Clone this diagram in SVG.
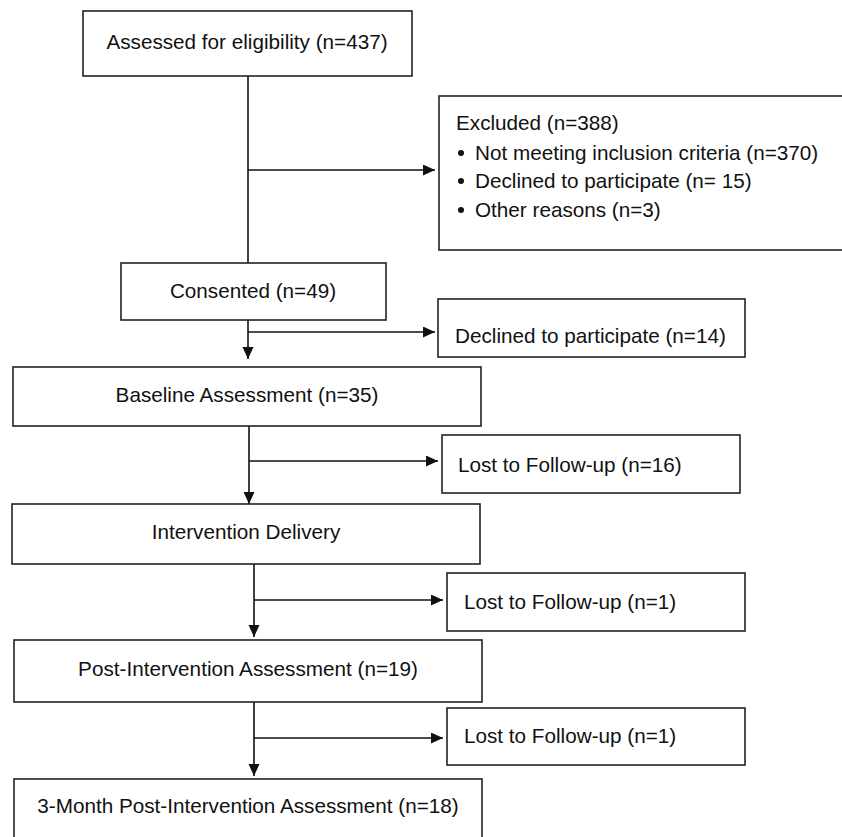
<svg xmlns="http://www.w3.org/2000/svg" width="842" height="837" viewBox="0 0 842 837">
<style>
.box{fill:#fff;stroke:#222;stroke-width:1.6}
.t{font-family:"Liberation Sans",Arial,sans-serif;font-size:20.7px;fill:#111}
.c{text-anchor:middle}
.ln{stroke:#111;stroke-width:1.6;fill:none}
</style>
<defs>
<marker id="ah" markerUnits="userSpaceOnUse" markerWidth="13" markerHeight="12" refX="12" refY="5.5" orient="auto">
<path d="M0,0 L12,5.5 L0,11 z" fill="#111"/>
</marker>
</defs>
<rect width="842" height="837" fill="#fff"/>
<g id="connectors">
<line class="ln" x1="248" y1="76" x2="248" y2="263"/>
<line class="ln" x1="248" y1="170" x2="435" y2="170" marker-end="url(#ah)"/>
<line class="ln" x1="248" y1="320" x2="248" y2="359" marker-end="url(#ah)"/>
<line class="ln" x1="248" y1="332" x2="435" y2="332" marker-end="url(#ah)"/>
<line class="ln" x1="249" y1="426" x2="249" y2="504" marker-end="url(#ah)"/>
<line class="ln" x1="249" y1="461" x2="438" y2="461" marker-end="url(#ah)"/>
<line class="ln" x1="254" y1="564" x2="254" y2="637" marker-end="url(#ah)"/>
<line class="ln" x1="254" y1="600" x2="443" y2="600" marker-end="url(#ah)"/>
<line class="ln" x1="254" y1="702" x2="254" y2="776" marker-end="url(#ah)"/>
<line class="ln" x1="254" y1="738" x2="443" y2="738" marker-end="url(#ah)"/>
</g>
<g id="assessed">
<rect class="box" x="83" y="11" width="329" height="65"/>
<text class="t c" x="247" y="49">Assessed for eligibility (n=437)</text>
</g>
<g id="excluded">
<rect class="box" x="439" y="96" width="410" height="154"/>
<text class="t" x="456" y="130">Excluded (n=388)</text>
<circle cx="461" cy="153" r="3" fill="#111"/>
<text class="t" x="475" y="160">Not meeting inclusion criteria (n=370)</text>
<circle cx="461" cy="181" r="3" fill="#111"/>
<text class="t" x="475" y="188">Declined to participate (n= 15)</text>
<circle cx="461" cy="210" r="3" fill="#111"/>
<text class="t" x="475" y="217">Other reasons (n=3)</text>
</g>
<g id="consented">
<rect class="box" x="121" y="263" width="265" height="57"/>
<text class="t c" x="253" y="298">Consented (n=49)</text>
</g>
<g id="declined">
<rect class="box" x="438" y="299" width="307" height="58"/>
<text class="t" x="455" y="343">Declined to participate (n=14)</text>
</g>
<g id="baseline">
<rect class="box" x="13" y="367" width="468" height="59"/>
<text class="t c" x="247" y="402">Baseline Assessment (n=35)</text>
</g>
<g id="lost1">
<rect class="box" x="442" y="435" width="298" height="58"/>
<text class="t" x="458" y="472">Lost to Follow-up (n=16)</text>
</g>
<g id="intervention">
<rect class="box" x="12" y="504" width="468" height="60"/>
<text class="t c" x="246" y="539">Intervention Delivery</text>
</g>
<g id="lost2">
<rect class="box" x="447" y="573" width="298" height="58"/>
<text class="t" x="464" y="609">Lost to Follow-up (n=1)</text>
</g>
<g id="post">
<rect class="box" x="14" y="640" width="468" height="62"/>
<text class="t c" x="248" y="676">Post-Intervention Assessment (n=19)</text>
</g>
<g id="lost3">
<rect class="box" x="447" y="708" width="298" height="57"/>
<text class="t" x="464" y="743">Lost to Follow-up (n=1)</text>
</g>
<g id="threemonth">
<rect class="box" x="14" y="779" width="468" height="70"/>
<text class="t c" x="248" y="813">3-Month Post-Intervention Assessment (n=18)</text>
</g>
</svg>
